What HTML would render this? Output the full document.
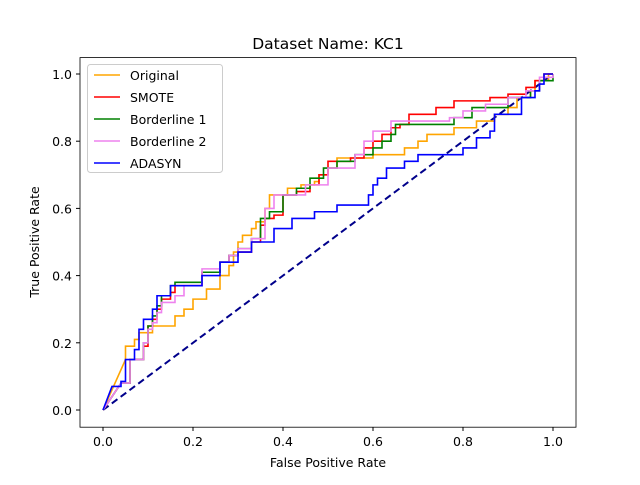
<!DOCTYPE html>
<html><head><meta charset="utf-8"><style>body{margin:0;background:#fff}svg text{font-family:"DejaVu Sans","Liberation Sans",sans-serif;fill:#000}</style></head>
<body>
<svg id="chart" width="640" height="480"></svg>
<script>
const origF=[0,0.05,0.05,0.07,0.08,0.11,0.16,0.18,0.2,0.23,0.26,0.28,0.29,0.3,0.31,0.33,0.34,0.36,0.37,0.41,0.44,0.47,0.48,0.5,0.52,0.6,0.67,0.7,0.72,0.78,0.83,0.87,0.9,0.92,0.95,0.96,0.99,1];
const origT=[0,0.15,0.19,0.21,0.23,0.25,0.28,0.3,0.33,0.36,0.4,0.43,0.47,0.5,0.52,0.54,0.56,0.6,0.64,0.66,0.67,0.68,0.7,0.72,0.75,0.76,0.78,0.8,0.82,0.84,0.86,0.88,0.9,0.93,0.95,0.98,1,1];
const smoteF=[0,0.04,0.06,0.09,0.1,0.11,0.12,0.13,0.15,0.16,0.22,0.26,0.28,0.3,0.33,0.35,0.36,0.38,0.4,0.43,0.46,0.48,0.5,0.55,0.58,0.6,0.62,0.64,0.66,0.68,0.74,0.78,0.86,0.9,0.94,0.96,0.98,1];
const smoteT=[0,0.08,0.15,0.19,0.25,0.27,0.3,0.33,0.35,0.37,0.41,0.44,0.46,0.47,0.5,0.55,0.57,0.58,0.64,0.65,0.67,0.7,0.74,0.75,0.78,0.8,0.82,0.84,0.85,0.88,0.9,0.92,0.93,0.94,0.96,0.98,1,1];
const bl1F=[0,0.04,0.06,0.09,0.1,0.11,0.12,0.13,0.15,0.16,0.22,0.26,0.28,0.3,0.33,0.35,0.37,0.4,0.43,0.46,0.49,0.52,0.56,0.6,0.62,0.64,0.65,0.78,0.82,0.9,0.95,0.97,1];
const bl1T=[0,0.08,0.15,0.2,0.25,0.28,0.31,0.34,0.37,0.38,0.41,0.44,0.46,0.48,0.51,0.57,0.59,0.64,0.66,0.69,0.72,0.74,0.76,0.78,0.8,0.82,0.85,0.87,0.9,0.93,0.95,0.98,1];
const bl2F=[0,0.04,0.06,0.09,0.1,0.11,0.12,0.13,0.16,0.18,0.22,0.26,0.28,0.3,0.33,0.36,0.38,0.45,0.5,0.56,0.58,0.6,0.64,0.77,0.8,0.85,0.9,0.94,0.97,1];
const bl2T=[0,0.08,0.15,0.2,0.24,0.26,0.29,0.32,0.34,0.37,0.42,0.44,0.46,0.48,0.51,0.6,0.64,0.67,0.72,0.76,0.8,0.83,0.86,0.87,0.89,0.91,0.93,0.95,0.99,1];
const adaF=[0,0.02,0.04,0.05,0.07,0.08,0.09,0.11,0.12,0.15,0.22,0.26,0.3,0.33,0.38,0.42,0.47,0.52,0.59,0.6,0.61,0.63,0.67,0.7,0.8,0.83,0.86,0.87,0.93,0.96,0.97,0.98,1];
const adaT=[0,0.07,0.085,0.15,0.18,0.24,0.27,0.3,0.34,0.37,0.4,0.44,0.47,0.5,0.54,0.57,0.59,0.61,0.64,0.67,0.69,0.72,0.74,0.76,0.78,0.81,0.83,0.88,0.93,0.95,0.97,1,1];
const xTicks=[0,0.2,0.4,0.6,0.8,1.0];
const yTicks=[0,0.2,0.4,0.6,0.8,1.0];
const seriesNames=["Original","SMOTE","Borderline 1","Borderline 2","ADASYN"];
const seriesColors=["orange","red","green","violet","blue"];
const X=v=>103+v*450, Y=v=>410-v*336;
const NS="http://www.w3.org/2000/svg", svg=document.getElementById('chart');
function mk(t,a,p){const e=document.createElementNS(NS,t);for(const k in a)e.setAttribute(k,a[k]);(p||svg).appendChild(e);return e;}
const ttl=mk('text',{x:328,y:49,'text-anchor':'middle','font-size':15.5});ttl.textContent='Dataset Name: KC1';


xTicks.forEach(v=>{mk('line',{x1:X(v),x2:X(v),y1:427,y2:431,stroke:'#000'});const t=mk('text',{x:X(v),y:446,'text-anchor':'middle','font-size':12.5});t.textContent=v.toFixed(1);

});
yTicks.forEach(v=>{mk('line',{x1:76,x2:80,y1:Y(v),y2:Y(v),stroke:'#000'});const t=mk('text',{x:72,y:Y(v)+5,'text-anchor':'end','font-size':12.5});t.textContent=v.toFixed(1);

});
const xl=mk('text',{x:328,y:467,'text-anchor':'middle','font-size':12.5});xl.textContent='False Positive Rate';


const yl=mk('text',{x:0,y:0,'text-anchor':'middle','font-size':12.5,transform:'translate(39,242) rotate(-90)'});yl.textContent='True Positive Rate';


const diag=mk('line',{x1:X(0),y1:Y(0),x2:X(1),y2:Y(1),stroke:'darkblue','stroke-width':2,'stroke-dasharray':'7,4'});


const data=[[origF,origT],[smoteF,smoteT],[bl1F,bl1T],[bl2F,bl2T],[adaF,adaT]];
data.forEach((d,i)=>{let p='M'+X(d[0][0])+','+Y(d[1][0])+' L'+X(d[0][1])+','+Y(d[1][1]);for(let k=2;k<d[0].length;k++){p+=' H'+X(d[0][k])+' V'+Y(d[1][k]);}
const e=mk('path',{d:p,fill:'none',stroke:seriesColors[i],'stroke-width':1.6});

});
const ax=mk('rect',{x:80,y:57.6,width:496,height:369.6,fill:'none',stroke:'#000','stroke-width':0.8});


const lg=mk('g',{});


mk('rect',{x:87.5,y:64.5,width:135,height:108,rx:3,fill:'#fff','fill-opacity':0.8,stroke:'#ccc'},lg);
seriesNames.forEach((n,i)=>{const y=75+i*22;mk('line',{x1:94,x2:120,y1:y,y2:y,stroke:seriesColors[i],'stroke-width':1.6},lg);
const t=mk('text',{x:130,y:y+5,'font-size':12.5},lg);t.textContent=n;

});
</script>
</body></html>
